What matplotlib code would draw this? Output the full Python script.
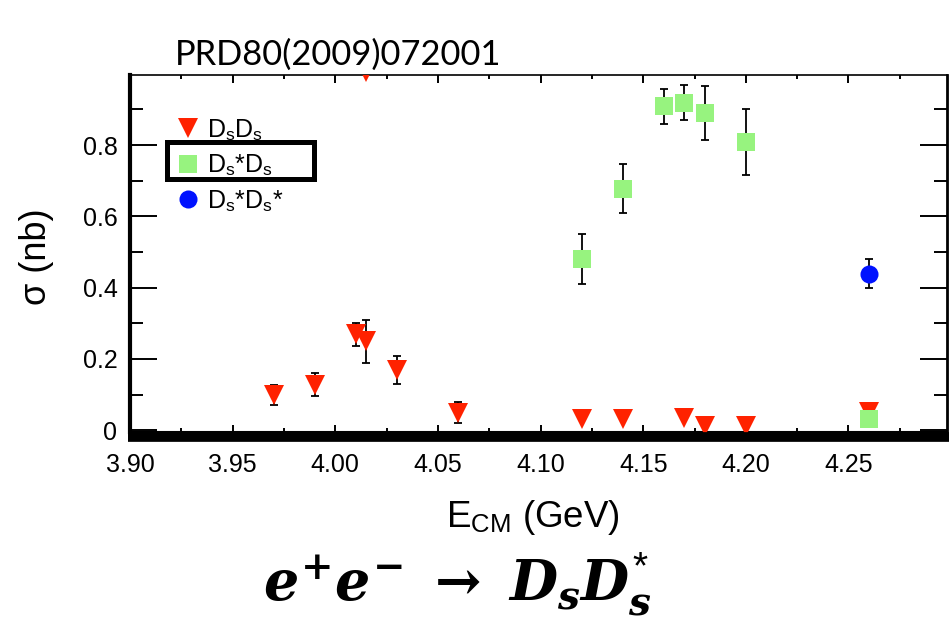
import matplotlib
matplotlib.use("Agg")
import matplotlib.pyplot as plt
import matplotlib.transforms as mtransforms
import numpy as np
from matplotlib.lines import Line2D
from matplotlib.patches import Rectangle
from matplotlib.ticker import MultipleLocator, FixedLocator, FuncFormatter

plt.rcParams['font.family'] = ['Liberation Sans', 'DejaVu Sans']
plt.rcParams['mathtext.fontset'] = 'custom'
plt.rcParams['mathtext.rm'] = 'Liberation Sans'
plt.rcParams['mathtext.it'] = 'DejaVu Serif:italic:bold'
plt.rcParams['mathtext.bf'] = 'DejaVu Serif:bold'

# e+e- -> Ds Ds cross sections (nb) vs centre-of-mass energy (GeV)
ds_ds_E = [3.97, 3.99, 4.01, 4.015, 4.03, 4.06, 4.12, 4.14, 4.17, 4.18, 4.20, 4.26]
ds_ds_sigma = [0.099, 0.128, 0.269, 0.249, 0.169, 0.049, 0.031, 0.031, 0.034, 0.013, 0.013, 0.050]
ds_ds_err = [0.027, 0.033, 0.033, 0.060, 0.038, 0.029, 0, 0, 0, 0, 0, 0]
ds_ds_high_E = [4.015]
ds_ds_high_sigma = [1.005]

# e+e- -> Ds* Ds
dsst_ds_E = [4.12, 4.14, 4.16, 4.17, 4.18, 4.20, 4.26]
dsst_ds_sigma = [0.480, 0.678, 0.909, 0.919, 0.889, 0.809, 0.031]
dsst_ds_err = [0.070, 0.069, 0.049, 0.050, 0.076, 0.093, 0]

# e+e- -> Ds* Ds*
dsst_dsst_E = [4.26]
dsst_dsst_sigma = [0.439]
dsst_dsst_err = [0.040]

x_ticks = [3.90, 3.95, 4.00, 4.05, 4.10, 4.15, 4.20, 4.25]
y_ticks = [0, 0.2, 0.4, 0.6, 0.8]

RED = '#ff2200'
GREEN = '#97f37f'
BLUE = '#0012ff'

W, H = 949, 622
fig = plt.figure(figsize=(W / 100, H / 100), dpi=100)
ax = fig.add_axes([130 / W, 1 - 432 / H, (947 - 130) / W, (432 - 75) / H])


def draw_series(E, s, err, marker, color, ms, label):
    E = np.asarray(E); s = np.asarray(s); err = np.asarray(err)
    m = err > 0
    if m.any():
        ax.errorbar(E[m], s[m], yerr=err[m], fmt='none', ecolor='black',
                    elinewidth=1.3, capsize=3, capthick=1.3, zorder=2)
    return ax.plot(E, s, linestyle='none', marker=marker, color=color,
                   markersize=ms, markeredgewidth=0, label=label, zorder=3)[0]


h1 = draw_series(ds_ds_E, ds_ds_sigma, ds_ds_err, 'v', RED, 14.4,
                 r'D$_\mathrm{s}$D$_\mathrm{s}$')
ax.plot(ds_ds_high_E, ds_ds_high_sigma, linestyle='none', marker='v', color=RED,
        markersize=14.4, markeredgewidth=0, zorder=3)
h2 = draw_series(dsst_ds_E, dsst_ds_sigma, dsst_ds_err, 's', GREEN, 13.6,
                 r'D$_\mathrm{s}$*D$_\mathrm{s}$')
h3 = draw_series(dsst_dsst_E, dsst_dsst_sigma, dsst_dsst_err, 'o', BLUE, 13.0,
                 r'D$_\mathrm{s}$*D$_\mathrm{s}$*')

ax.set_xlim(3.90, 4.298)
ax.set_ylim(-0.005, 0.9965)

ax.xaxis.set_major_locator(FixedLocator(x_ticks))
ax.xaxis.set_minor_locator(MultipleLocator(0.025))
ax.xaxis.set_major_formatter(FuncFormatter(lambda v, p: f'{v:.2f}'))
ax.yaxis.set_major_locator(FixedLocator(y_ticks))
ax.yaxis.set_minor_locator(MultipleLocator(0.1))
ax.yaxis.set_major_formatter(FuncFormatter(lambda v, p: '0' if abs(v) < 1e-9 else f'{v:.1f}'))

ax.tick_params(axis='x', which='both', direction='in', top=True, bottom=True,
               width=1.4, labelsize=18, pad=15)
ax.tick_params(axis='x', which='major', length=5.4)
ax.tick_params(axis='x', which='minor', length=2.9)
ax.tick_params(axis='y', which='both', direction='in', left=True, right=True,
               width=1.4, labelsize=18, pad=9)
ax.tick_params(axis='y', which='major', length=19.4)
ax.tick_params(axis='y', which='minor', length=9.4)

ax.spines['left'].set_linewidth(3.0)
ax.spines['right'].set_linewidth(2.0)
ax.spines['top'].set_linewidth(1.2)
ax.spines['bottom'].set_linewidth(1.5)

# heavy baseline under the energy axis
base_tr = mtransforms.offset_copy(ax.transAxes, fig=fig, x=0, y=-5, units='dots')
ax.add_line(Line2D([-0.002, 1.01], [0, 0], transform=base_tr, color='black',
                   linewidth=7.0, solid_capstyle='butt', clip_on=False, zorder=4))

leg = ax.legend(handles=[h1, h2, h3], loc='upper left',
                bbox_to_anchor=((178 - 130) / 817, (432 - 117) / 357),
                frameon=False, fontsize=18, handlelength=0.8, handletextpad=0.36,
                labelspacing=0.38, borderpad=0, borderaxespad=0, numpoints=1)

# box highlighting the Ds* Ds entry
ax.add_patch(Rectangle(((167 - 130) / 817, (432 - 179) / 357), (314 - 167) / 817,
                       (179 - 142) / 357, transform=ax.transAxes, fill=False,
                       edgecolor='black', linewidth=3.6, zorder=5, clip_on=False))

fig.text(533 / W, 1 - 527 / H, r'E$_\mathrm{CM}$ (GeV)', ha='center', va='baseline',
         fontsize=26.5)
fig.text(37 / W, 1 - 257 / H, 'σ (nb)', ha='center', va='center', rotation=90,
         fontsize=26)
fig.text(175 / W, 1 - 65 / H, 'PRD80(2009)072001', ha='left', va='baseline',
         fontsize=24.8, family=['Lato', 'DejaVu Sans'])
fig.text(457 / W, 1 - 600 / H,
         r'$e^{\mathbf{+}}e^{\mathbf{-}}\;\mathbf{\rightarrow}\;D_{s}D_{s}^{*}$',
         ha='center', va='baseline', fontsize=40)

fig.savefig('out.png', dpi=100)
